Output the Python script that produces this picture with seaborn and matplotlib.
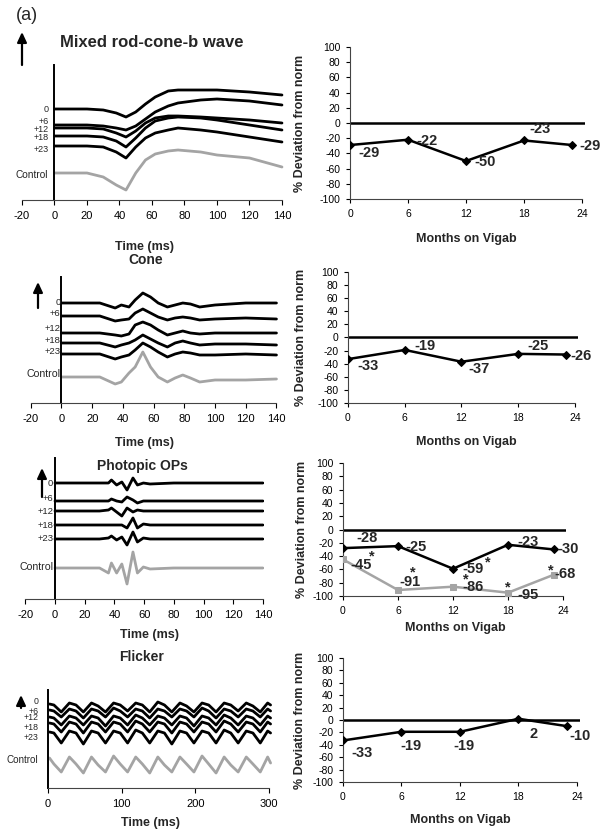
import matplotlib
matplotlib.use('Agg')
import matplotlib.pyplot as plt
from matplotlib.patches import FancyArrowPatch
import seaborn as sns

sns.set_style("ticks")
plt.rcParams['font.family'] = ['Liberation Sans', 'DejaVu Sans']
plt.rcParams['axes.unicode_minus'] = False

W, H = 604, 836

# ---- right column: % deviation from norm vs months on Vigab ----
months = [0, 6, 12, 18, 23]
mixed_dev = [-29, -22, -50, -23, -29]
cone_dev = [-33, -19, -37, -25, -26]
ops_dev = [-28, -25, -59, -23, -30]
ops_dev_gray = [-45, -91, -86, -95, -68]
flicker_dev = [-33, -19, -19, 2, -10]

# ---- left column: ERG traces (arbitrary amplitude units) ----
trace_names = ['0', '+6', '+12', '+18', '+23', 'Control']

mixed_t = [0, 20, 30, 38, 44, 50, 56, 62, 70, 76, 90, 100, 120, 140]
mixed_0 = [91, 91, 90, 87, 83, 88, 96, 103, 109, 110, 110, 110, 108, 105]
mixed_6 = [75, 75, 74, 72, 70, 74, 81, 88, 94, 97, 100, 101, 99, 95]
mixed_12 = [72, 72, 71, 67, 63, 69, 77, 82, 84, 84, 83, 82, 80, 77]
mixed_18 = [64, 64, 63, 59, 53, 62, 72, 79, 82, 83, 82, 80, 75, 70]
mixed_23 = [54, 54, 53, 48, 42, 53, 62, 67, 70, 72, 70, 68, 63, 58]
mixed_ctrl = [27, 27, 23, 15, 10, 27, 40, 46, 49, 50, 48, 45, 42, 33]

cone_t = [0, 25, 35, 39, 44, 48, 53, 58, 63, 69, 74, 79, 84, 90, 100, 120, 140]
cone_0 = [100, 100, 95, 98, 96, 103, 110, 106, 100, 96, 98, 100, 99, 96, 98, 100, 100]
cone_6 = [87, 87, 82, 83, 84, 90, 94, 90, 86, 83, 85, 86, 85, 83, 84, 85, 84]
cone_12 = [70, 70, 68, 67, 69, 78, 81, 78, 73, 68, 70, 72, 70, 69, 70, 70, 70]
cone_18 = [60, 60, 56, 58, 60, 63, 68, 64, 60, 56, 60, 62, 60, 58, 59, 59, 58]
cone_23 = [49, 49, 44, 46, 48, 53, 60, 56, 51, 46, 49, 51, 50, 48, 48, 49, 48]
cone_ctrl = [26, 26, 19, 21, 30, 36, 51, 36, 26, 21, 25, 28, 25, 21, 23, 23, 24]

ops_t = [0, 30, 36, 38, 41.5, 45, 48.5, 52.5, 55.5, 59.5, 64, 80, 100, 120, 140]
ops_0 = [116, 116, 116, 119, 114, 117, 109, 121, 114, 116, 115, 116, 116, 116, 116]
ops_6 = [98, 98, 98, 100, 98, 97, 102, 99, 96, 98, 98, 98, 98, 98, 98]
ops_12 = [88, 88, 89, 91, 87, 83, 91, 87, 89, 88, 88, 88, 88, 88, 88]
ops_18 = [74, 74, 74, 74, 74, 74, 71, 81, 71, 75, 74, 74, 74, 74, 74]
ops_23 = [60, 60, 61, 63, 59, 62, 54, 67, 57, 61, 60, 60, 60, 60, 60]
ops_ctrl = [31, 31, 26, 36, 26, 35, 15, 47, 26, 32, 30, 31, 31, 31, 31]

flicker_t = [2, 8, 18, 29, 38, 48, 59, 68, 78, 89, 98, 108, 119, 128, 138, 149,
             158, 168, 179, 188, 198, 209, 218, 228, 239, 248, 258, 269, 278, 288, 298, 302]
flick_0 = [84, 83, 76, 85, 83, 76, 85, 82, 76, 85, 83, 77, 85, 83, 76, 86,
           83, 76, 85, 82, 76, 85, 83, 76, 85, 83, 77, 85, 82, 76, 85, 83]
flick_6 = [78, 77, 71, 79, 77, 70, 79, 77, 71, 80, 77, 71, 79, 77, 70, 79,
           77, 71, 79, 77, 71, 80, 77, 70, 79, 77, 71, 79, 77, 71, 79, 77]
flick_12 = [71, 70, 63, 72, 70, 63, 72, 70, 62, 72, 70, 63, 73, 70, 63, 72,
            70, 63, 72, 70, 62, 72, 70, 63, 73, 70, 63, 72, 70, 63, 72, 70]
flick_18 = [65, 64, 56, 66, 64, 55, 66, 64, 56, 66, 64, 56, 67, 64, 56, 66,
            64, 55, 66, 64, 56, 66, 64, 56, 67, 64, 56, 66, 64, 56, 66, 64]
flick_23 = [56, 55, 45, 57, 55, 44, 57, 55, 45, 57, 55, 45, 58, 55, 45, 57,
            55, 44, 57, 55, 45, 57, 55, 45, 58, 55, 45, 57, 55, 45, 57, 55]
flick_ctrl = [30, 24, 16, 31, 24, 15, 31, 23, 16, 32, 24, 16, 31, 24, 15, 31,
              23, 16, 31, 24, 16, 32, 24, 15, 31, 23, 16, 31, 24, 16, 31, 25]

GRAY = '#a4a4a4'


def px_rect(x0, x1, y0, y1):
    return [x0 / W, 1 - y1 / H, (x1 - x0) / W, (y1 - y0) / H]


fig = plt.figure(figsize=(W / 100, H / 100), dpi=100)


def trace_axes(rect, xlim, ylim, xticks, xbounds, xlab_xy):
    ax = fig.add_axes(rect)
    ax.set_xlim(*xlim)
    ax.set_ylim(*ylim)
    ax.spines['top'].set_visible(False)
    ax.spines['right'].set_visible(False)
    ax.spines['left'].set_position(('data', 0))
    ax.spines['left'].set_linewidth(1.4)
    ax.spines['left'].set_color('k')
    ax.spines['bottom'].set_bounds(*xbounds)
    ax.spines['bottom'].set_linewidth(0.8)
    ax.spines['bottom'].set_color('#444444')
    ax.set_yticks([])
    ax.set_xticks(xticks)
    ax.tick_params(axis='x', direction='out', length=3.5, width=0.8,
                   pad=4.5, labelsize=8, colors='k')
    ax.set_xlabel('Time (ms)', fontsize=9, fontweight='bold')
    ax.xaxis.set_label_coords(*xlab_xy)
    ax.xaxis.label.set_va('center')
    return ax


def draw_traces(ax, t, traces, lab_x, lab_y, fs):
    for name, vals, ly in zip(trace_names, traces, lab_y):
        col = GRAY if name == 'Control' else 'k'
        sns.lineplot(x=t, y=vals, ax=ax, color=col, lw=2,
                     estimator=None, sort=False)
        ax.text(lab_x, ly, name, ha='right', va='center',
                fontsize=fs + (0.8 if name == 'Control' else 0))


def dev_axes(rect, ylab_x, xlab_xy):
    ax = fig.add_axes(rect)
    ax.set_xlim(0, 24.3)
    ax.set_ylim(-100, 100)
    ax.spines['top'].set_visible(False)
    ax.spines['right'].set_visible(False)
    ax.spines['bottom'].set_bounds(0, 24)
    for s in ['left', 'bottom']:
        ax.spines[s].set_linewidth(0.8)
        ax.spines[s].set_color('#444444')
    ax.set_xticks([0, 6, 12, 18, 24])
    ax.set_yticks(range(-100, 101, 20))
    ax.tick_params(direction='out', length=3, width=0.8, labelsize=7.5,
                   pad=4, colors='k')
    ax.axhline(0, color='k', lw=1.8, zorder=1)
    ax.set_ylabel('% Deviation from norm', fontsize=9, fontweight='bold')
    ax.yaxis.set_label_coords(ylab_x, 0.5)
    ax.yaxis.label.set_va('center')
    ax.set_xlabel('Months on Vigab', fontsize=9, fontweight='bold')
    ax.xaxis.set_label_coords(*xlab_xy)
    ax.xaxis.label.set_va('center')
    return ax


def dev_line(ax, y, color='k', marker='D', ms=4):
    sns.lineplot(x=months, y=y, ax=ax, color=color, lw=1.8, marker=marker,
                 markersize=ms, markeredgecolor=color, estimator=None,
                 sort=False, zorder=3)


def point_labels(ax, y, offsets, fs=10.5):
    for x, v, (dx, dy) in zip(months, y, offsets):
        ax.annotate(str(v), (x, v), xytext=(dx, dy), textcoords='offset pixels',
                    ha='center', va='center', fontsize=fs, fontweight='bold')


def stars(ax, y, offsets):
    for x, v, off in zip(months, y, offsets):
        if off is None:
            continue
        ax.annotate('*', (x, v), xytext=off, textcoords='offset pixels',
                    ha='center', va='center', fontsize=10.5, fontweight='bold')


def arrow(x, y0, y1):
    fig.add_artist(FancyArrowPatch((x / W, 1 - y0 / H), (x / W, 1 - y1 / H),
                                   transform=fig.transFigure,
                                   arrowstyle='-|>,head_length=0.6,head_width=0.28',
                                   mutation_scale=10, lw=1.6, color='k',
                                   shrinkA=0, shrinkB=0))


# ---- Mixed rod-cone b wave ----
ax = trace_axes(px_rect(22, 283.6, 65, 200), (-20, 141), (0, 135),
                range(-20, 141, 20), (-20, 140), (0.47, -0.348))
draw_traces(ax, mixed_t, [mixed_0, mixed_6, mixed_12, mixed_18, mixed_23, mixed_ctrl],
            -3.7, [91, 79, 71, 62, 50, 25], 6.5)
ax.text(0.497, 1.17, 'Mixed rod-cone-b wave', transform=ax.transAxes,
        ha='center', va='center', fontsize=12, fontweight='bold')

ax = dev_axes(px_rect(350, 584.9, 47, 199), -0.213, (0.494, -0.263))
dev_line(ax, mixed_dev)
point_labels(ax, mixed_dev, [(19, -8), (19, -1), (19, -1), (16, 11), (18, -1)])

# ---- Cone ----
ax = trace_axes(px_rect(30.7, 278, 277, 403), (-20, 141), (0, 126),
                range(-20, 141, 20), (-20, 140), (0.462, -0.317))
draw_traces(ax, cone_t, [cone_0, cone_6, cone_12, cone_18, cone_23, cone_ctrl],
            -0.5, [100, 89.7, 74.7, 62.3, 51.3, 29], 6.8)
ax.text(0.466, 1.135, 'Cone', transform=ax.transAxes,
        ha='center', va='center', fontsize=10, fontweight='bold')

ax = dev_axes(px_rect(348, 577.8, 272, 403), -0.206, (0.513, -0.298))
dev_line(ax, cone_dev)
point_labels(ax, cone_dev, [(20, -7), (20, 4), (18, -7), (20, 8), (15, -1)])

# ---- Photopic OPs ----
ax = trace_axes(px_rect(25.3, 264.4, 458, 599), (-20, 141), (0, 141),
                range(-20, 141, 20), (-20, 140), (0.52, -0.255))
draw_traces(ax, ops_t, [ops_0, ops_6, ops_12, ops_18, ops_23, ops_ctrl],
            -1.1, [116, 100.7, 88, 74, 60.7, 31.7], 6.8)
ax.text(0.492, 0.943, 'Photopic OPs', transform=ax.transAxes,
        ha='center', va='center', fontsize=10, fontweight='bold')

ax = dev_axes(px_rect(343, 565.75, 463, 596), -0.184, (0.503, -0.241))
dev_line(ax, ops_dev)
dev_line(ax, ops_dev_gray, color=GRAY, marker='s', ms=5)
point_labels(ax, ops_dev, [(24, 10), (18, -1), (20, 0), (20, 3), (14, 0)])
point_labels(ax, ops_dev_gray, [(18, -6), (12, 8), (20, 0), (20, -2), (11, 1)])
stars(ax, ops_dev, [None, None, (35, 6), None, None])
stars(ax, ops_dev_gray, [(29, 3), (15, 18), (13, 7), (0, 5), (-3, 4)])

# ---- Flicker ----
ax = trace_axes(px_rect(48, 272.8, 690, 788), (0, 305), (0, 98),
                [0, 100, 200, 300], (0, 300), (0.454, -0.354))
draw_traces(ax, flicker_t, [flick_0, flick_6, flick_12, flick_18, flick_23, flick_ctrl],
            -13, [86, 77, 70, 60, 50, 28], 6.3)
ax.text(0.418, 1.34, 'Flicker', transform=ax.transAxes,
        ha='center', va='center', fontsize=10, fontweight='bold')

ax = dev_axes(px_rect(343, 579.9, 658, 782), -0.182, (0.497, -0.306))
dev_line(ax, flicker_dev)
point_labels(ax, flicker_dev, [(19, -13), (9, -14), (4, -14), (15, -15), (13, -10)])

# arrows and panel letter
arrow(22, 65, 32)
arrow(38, 308, 282)
arrow(42, 497, 468)
arrow(21, 708, 695)
fig.text(27 / W, 1 - 16 / H, '(a)', ha='center', va='center', fontsize=13)

fig.savefig('out.png', dpi=100)
